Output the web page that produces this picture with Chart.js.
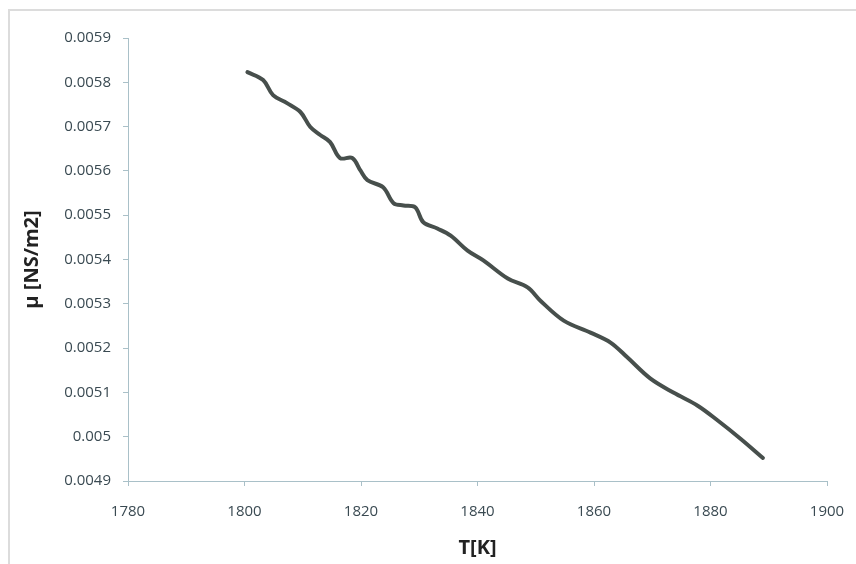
<!DOCTYPE html>
<html>
<head>
<meta charset="utf-8">
<script src="https://cdn.jsdelivr.net/npm/chart.js@4.4.0/dist/chart.umd.min.js"></script>
<style>
    html, body { margin: 0; padding: 0; background: #fff; }
    .wrap { position: relative; width: 856px; height: 564px; overflow: hidden; }
    .frame { position: absolute; left: 8px; top: 9px; width: 900px; height: 600px; border: 2px solid #dcdcdc; }
    canvas { position: absolute; left: 0; top: 0; }
</style>
</head>
<body>
<div class="wrap">
    <div class="frame"></div>
    <canvas id="viscosity" width="856" height="564"></canvas>
</div>
<script>
// temperature [K]
const temperature = [
    1800.5, 1803.2, 1804.9, 1807.3, 1809.6, 1811.3, 1813.0, 1814.7, 1816.4, 1818.5,
    1819.9, 1821.1, 1823.8, 1825.6, 1827.3, 1829.3, 1830.7, 1833.1, 1835.4, 1838.3,
    1841.0, 1845.2, 1848.6, 1850.8, 1854.8, 1859.4, 1862.9, 1865.8, 1869.7, 1873.7,
    1877.8, 1881.3, 1885.2, 1889.0
];

// dynamic viscosity [NS/m2]
const viscosity = [
    0.005823, 0.005805, 0.005771, 0.005753, 0.005733, 0.005699, 0.005681, 0.005665, 0.005629, 0.005629,
    0.005601, 0.005579, 0.005563, 0.005527, 0.005522, 0.005518, 0.005484, 0.005470, 0.005454, 0.005420,
    0.005398, 0.005357, 0.005337, 0.005307, 0.005262, 0.005235, 0.005212, 0.005178, 0.005131, 0.005099,
    0.005070, 0.005036, 0.004995, 0.004952
];

const xTicks = { min: 1780, max: 1900, step: 20 };
const yTicks = { min: 0.0049, max: 0.0059, step: 0.0001 };

const points = temperature.map((t, i) => ({ x: t, y: viscosity[i] }));

const tickFont = { family: "'Open Sans', sans-serif", size: 15 };
const titleFont = { family: "'Open Sans', sans-serif", size: 20, weight: 'bold' };
const tickColor = "#3a4a52";
const axisColor = "#a9c0c8";

const ctx = document.getElementById("viscosity").getContext("2d");

const config = {
    type: 'scatter',
    data: {
        datasets: [{
            data: points,
            showLine: true,
            borderColor: "#474f4c",
            borderWidth: 4,
            pointRadius: 0,
            tension: 0.35,
            borderCapStyle: 'round',
            borderJoinStyle: 'round'
        }]
    },
    options: {
        responsive: false,
        animation: false,
        layout: {
            padding: { top: 38, right: 29, bottom: 0, left: 0 }
        },
        plugins: {
            legend: { display: false },
            tooltip: { enabled: false }
        },
        scales: {
            x: {
                type: 'linear',
                min: xTicks.min,
                max: xTicks.max,
                ticks: {
                    stepSize: xTicks.step,
                    font: tickFont,
                    color: tickColor,
                    padding: 17,
                    maxRotation: 0,
                    callback: (v) => String(v)
                },
                grid: {
                    drawOnChartArea: false,
                    tickLength: 5,
                    color: axisColor
                },
                border: { color: axisColor, width: 1 },
                title: {
                    display: true,
                    text: "T[K]",
                    font: titleFont,
                    color: "#222",
                    padding: { top: 0, bottom: 4 }
                },
                afterFit: (scale) => {
                    scale.height = 83;
                    scale.paddingRight = 0;
                }
            },
            y: {
                type: 'linear',
                min: yTicks.min,
                max: yTicks.max,
                ticks: {
                    stepSize: yTicks.step,
                    font: tickFont,
                    color: tickColor,
                    padding: 12,
                    callback: (v) => String(+v.toFixed(4))
                },
                grid: {
                    drawOnChartArea: false,
                    tickLength: 5,
                    color: axisColor
                },
                border: { color: axisColor, width: 1 },
                title: {
                    display: true,
                    text: "μ [NS/m2]",
                    font: titleFont,
                    color: "#222",
                    padding: { top: 20, bottom: 0 }
                },
                afterFit: (scale) => { scale.width = 128; }
            }
        }
    }
};

const viscosityChart = new Chart(ctx, config);
</script>
</body>
</html>
